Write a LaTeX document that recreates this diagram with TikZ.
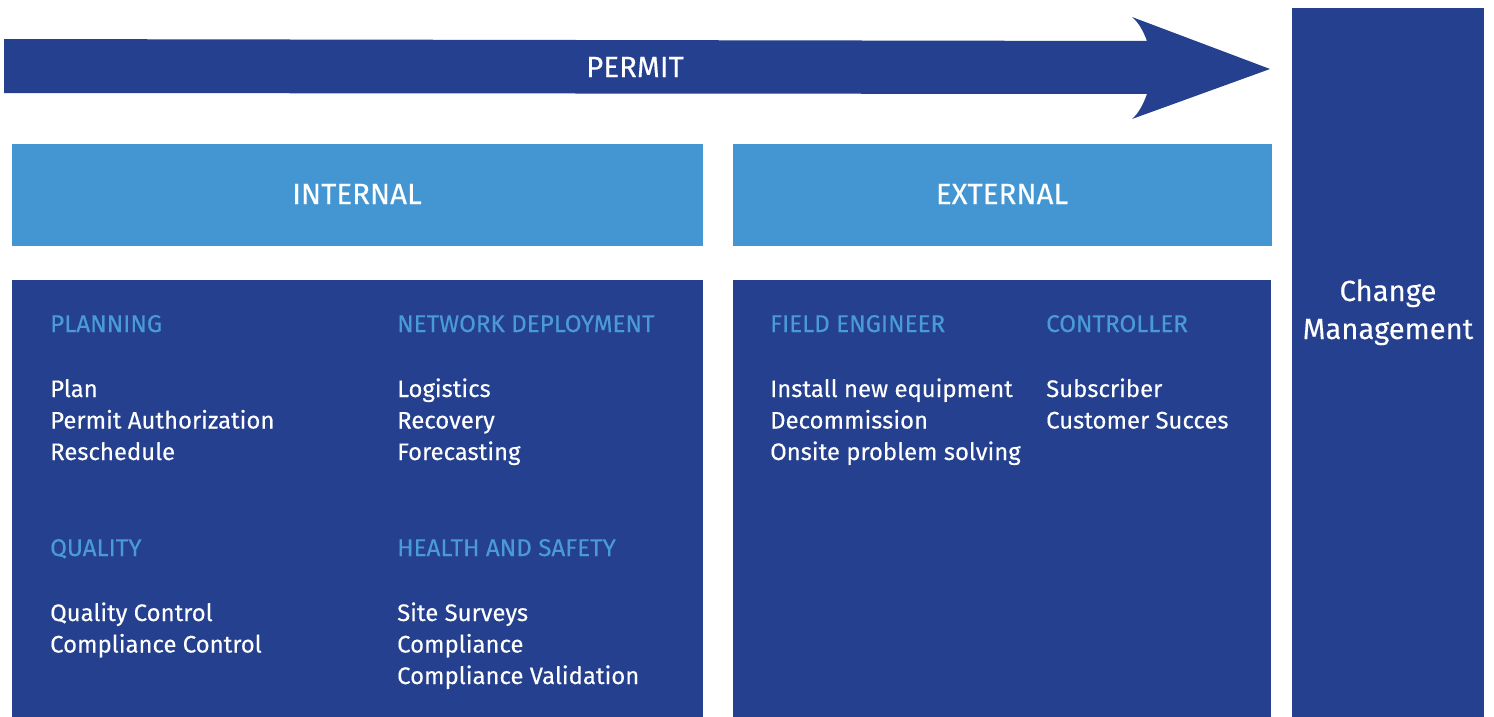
\documentclass[tikz,border=0pt]{standalone}
\usepackage{fontspec}
\setmainfont{Fira Sans}[FakeBold=0.25]
\definecolor{dblue}{HTML}{24408E}
\definecolor{lblue}{HTML}{4496D3}
\definecolor{htext}{HTML}{4A9AD8}
\begin{document}
\begin{tikzpicture}[x=1pt,y=-1pt,
  title/.style={text=white,font=\fontsize{29.5}{34}\selectfont,inner sep=0pt},
  head/.style={text=htext,font=\fontsize{24.2}{32}\selectfont,anchor=base west,inner sep=0pt},
  item/.style={text=white,font=\fontsize{23.9}{32}\selectfont,anchor=base west,inner sep=0pt},
  big/.style={text=white,font=\fontsize{29.2}{38}\selectfont,anchor=base,inner sep=0pt}]
\useasboundingbox (0,0) rectangle (1494,717);
% arrow
\fill[dblue] (4,39) -- (1147,41) .. controls (1143,30) and (1138,22) .. (1132,17)
  -- (1270,69) -- (1132,119) .. controls (1138,114) and (1143,105) .. (1147,94) -- (4,93) -- cycle;
\node[title] (permit) at (635,67) {PERMIT};
% change management
\fill[dblue] (1292,8) rectangle (1484,717);
\node[big] (chg1) at (1388,301) {Change};
\node[big] (chg2) at (1388,339) {Management};
% headers
\fill[lblue] (12,144) rectangle (703,246);
\node[title] (internal) at (357,194) {INTERNAL};
\fill[lblue] (733,144) rectangle (1272,246);
\node[title] (external) at (1002,194) {EXTERNAL};
% bodies
\fill[dblue] (12,280) rectangle (703,717);
\fill[dblue] (733,280) rectangle (1271,717);
% internal col 1
\node[head] (planning) at (50,332) {PLANNING};
\node[item] (p1) at (50,397) {Plan};
\node[item] (p2) at (50,428.5) {Permit Authorization};
\node[item] (p3) at (50,460) {Reschedule};
\node[head] (quality) at (50,556) {QUALITY};
\node[item] (q1) at (50,621) {Quality Control};
\node[item] (q2) at (50,652.5) {Compliance Control};
% internal col 2
\node[head] (netdep) at (397,332) {NETWORK DEPLOYMENT};
\node[item] (n1) at (397,397) {Logistics};
\node[item] (n2) at (397,428.5) {Recovery};
\node[item] (n3) at (397,460) {Forecasting};
\node[head] (hs) at (397,556) {HEALTH AND SAFETY};
\node[item] (h1) at (397,621) {Site Surveys};
\node[item] (h2) at (397,652.5) {Compliance};
\node[item] (h3) at (397,684) {Compliance Validation};
% external
\node[head] (field) at (770,332) {FIELD ENGINEER};
\node[item] (f1) at (770,397) {Install new equipment};
\node[item] (f2) at (770,428.5) {Decommission};
\node[item] (f3) at (770,460) {Onsite problem solving};
\node[head] (ctrl) at (1046,332) {CONTROLLER};
\node[item] (c1) at (1046,397) {Subscriber};
\node[item] (c2) at (1046,428.5) {Customer Succes};
\end{tikzpicture}
\end{document}
